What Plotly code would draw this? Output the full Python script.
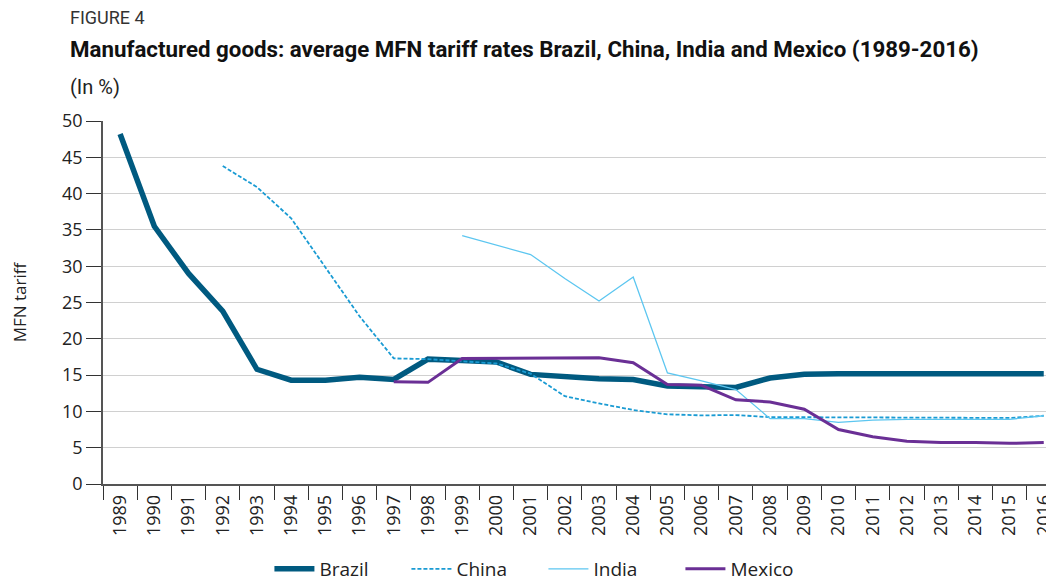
import plotly.graph_objects as go

years = [str(y) for y in range(1989, 2017)]

brazil = [48.2, 35.5, 29.0, 23.8, 15.8, 14.3, 14.3, 14.7, 14.4, 17.2, 17.0, 16.8, 15.1, 14.8,
          14.5, 14.4, 13.5, 13.4, 13.3, 14.6, 15.1, 15.2, 15.2, 15.2, 15.2, 15.2, 15.2, 15.2]
china = [None, None, None, 43.8, 40.9, 36.6, 29.9, 23.1, 17.3, 17.2, 16.9, 16.6, 15.2, 12.1,
         11.1, 10.2, 9.6, 9.45, 9.5, 9.2, 9.2, 9.2, 9.2, 9.2, 9.2, 9.1, 9.1, 9.4]
india = [None] * 10 + [34.2, 32.9, 31.6, 28.3, 25.2, 28.5, 15.3, 14.2, 13.0, 9.0, 9.0, 8.5,
                       8.8, 8.9, 8.9, 8.9, 8.9, 9.4]
mexico = [None] * 8 + [14.1, 14.0, 17.3, 17.3, 17.3, 17.4, 17.4, 16.7, 13.7, 13.6, 11.6, 11.3,
                       10.3, 7.5, 6.5, 5.9, 5.7, 5.7, 5.6, 5.7]

series_names = ["Brazil", "China", "India", "Mexico"]
colors = ["#005a80", "#1a9bd3", "#5cc6f0", "#6a2f95"]
widths = [5.5, 1.8, 1.3, 3]
dashes = ["solid", "4px,2px", "solid", "solid"]

fig = go.Figure()
for name, vals, c, w, d in zip(series_names, [brazil, china, india, mexico], colors, widths, dashes):
    fig.add_trace(go.Scatter(x=years, y=vals, name=name, mode="lines",
                             line=dict(color=c, width=w, dash=d),
                             connectgaps=False))

font_main = "Open Sans, Noto Sans, sans-serif"
font_cond = "Roboto, sans-serif"

fig.update_layout(
    width=1046, height=573,
    margin=dict(l=95, r=0, t=113, b=97, autoexpand=False),
    paper_bgcolor="white", plot_bgcolor="white",
    font=dict(family=font_main, color="#222222"),
    showlegend=True,
    legend=dict(orientation="h", x=0.175, xanchor="left", y=-0.234, yanchor="middle",
                font=dict(size=19, family=font_main, color="#222222"),
                itemwidth=40, entrywidth=82, tracegroupgap=0),
    xaxis=dict(type="category", range=[-0.5, 27.3], showgrid=False, automargin=False,
               showline=True, linecolor="#555555", linewidth=1.5,
               ticks="outside", ticklen=14, tickcolor="#333333", tickwidth=1,
               tickson="boundaries", tickangle=-90, ticklabelstandoff=2,
               tickfont=dict(size=18, family=font_main, color="#222222")),
    yaxis=dict(range=[0, 50], dtick=5, showgrid=True, gridcolor="#d0d0d0", gridwidth=1,
               showline=True, linecolor="#555555", linewidth=1.5, automargin=False,
               ticks="outside", ticklen=15, tickcolor="#333333", tickwidth=1,
               zeroline=False,
               tickfont=dict(size=18, family=font_main, color="#222222"),
               title=dict(text="MFN tariff", font=dict(size=17, family=font_main, color="#222222"),
                          standoff=38)),
    annotations=[
        dict(text="FIGURE 4", xref="paper", yref="paper", x=-0.0368, y=1.0, yshift=104,
             xanchor="left", yanchor="middle", showarrow=False,
             font=dict(size=18, family=font_cond, color="#333333")),
        dict(text="<b>Manufactured goods: average MFN tariff rates Brazil, China, India and Mexico (1989-2016)</b>",
             xref="paper", yref="paper", x=-0.0368, y=1.0, yshift=72,
             xanchor="left", yanchor="middle", showarrow=False,
             font=dict(size=22.3, family=font_cond, color="#111111")),
        dict(text="(In %)", xref="paper", yref="paper", x=-0.0368, y=1.0, yshift=34,
             xanchor="left", yanchor="middle", showarrow=False,
             font=dict(size=20, family=font_cond, color="#222222")),
    ],
)

fig.write_html("out.html")
